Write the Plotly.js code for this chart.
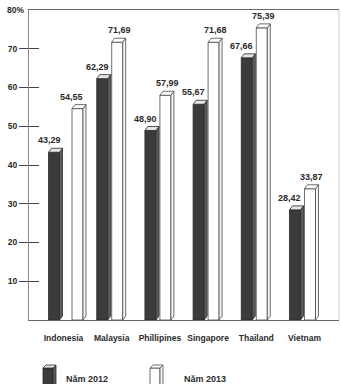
<!DOCTYPE html>
<html>
<head>
<meta charset="utf-8">
<script src="https://cdn.plot.ly/plotly-3.0.1.min.js"></script>
<style>
  html, body { margin: 0; padding: 0; background: #fff; }
  #chart { width: 341px; height: 384px; }
</style>
</head>
<body>
<div id="chart"></div>
<script>
// Share (%) by country, two years
const categories = ['Indonesia', 'Malaysia', 'Phillipines', 'Singapore', 'Thailand', 'Vietnam'];
const values2012 = [43.29, 62.29, 48.90, 55.67, 67.66, 28.42];
const values2013 = [54.55, 71.69, 57.99, 71.68, 75.39, 33.87];
const seriesNames = ['Năm 2012', 'Năm 2013'];
const yTickValues = [10, 20, 30, 40, 50, 60, 70];
const yTopLabel = '80%';

const FONT = '"Liberation Sans", Arial, Helvetica, sans-serif';
const INK = '#2b2b2b';

// plot box in pixels
const W = 341, H = 384;
const M = { l: 29, r: 2, t: 10, b: 64 };
const plotW = W - M.l - M.r, plotH = H - M.t - M.b;
const xRange = [-0.716, 5.716];
const yRange = [0, 80];
const pxPerX = plotW / (xRange[1] - xRange[0]);
const pxPerY = plotH / (yRange[1] - yRange[0]);

// bar geometry (front face + slanted side/top faces)
const FRONT_W = 11 / pxPerX;
const DEPTH_X = 3 / pxPerX;
const DEPTH_Y = 4 / pxPerY;
// per-category horizontal placement of each series' bar, in px from the category centre
const barShiftPx = [
  [-15, -15, -15, -15, -15, -15],
  [8.5, 0, 0, 0, 0, 0]
];

const styles = [
  { front: '#3b3b3b', side: '#5c5c5c', cap: '#e4e4e4', edge: '#2b2b2b', labelPx: -14.5 },
  { front: '#ffffff', side: '#f3f3f3', cap: '#ffffff', edge: '#4a4a4a', labelPx: 7.5 }
];
const xIdx = categories.map((_, i) => i);
const fmt = v => v.toFixed(2).replace('.', ',');
const seriesValues = [values2012, values2013];

const traces = seriesValues.map((vals, s) => ({
  type: 'bar',
  name: seriesNames[s],
  x: xIdx,
  y: vals,
  width: FRONT_W,
  offset: barShiftPx[s].map(p => p / pxPerX),
  marker: { color: styles[s].front, line: { color: styles[s].edge, width: 0.8 } },
  showlegend: false,
  hoverinfo: 'skip'
}));
// carrier for the inner half of the y tick marks
traces.push({ type: 'scatter', x: [], y: [], yaxis: 'y2', showlegend: false, hoverinfo: 'skip' });

// 3D side and top faces, computed from the bar values
const shapes = [];
function faces(x0, v, st) {
  const r = x0 + FRONT_W;
  shapes.push({
    type: 'path', xref: 'x', yref: 'y', layer: 'above',
    path: `M${r},0 L${r},${v} L${r + DEPTH_X},${v + DEPTH_Y} L${r + DEPTH_X},${DEPTH_Y} Z`,
    fillcolor: st.side, line: { color: st.edge, width: 0.8 }
  });
  shapes.push({
    type: 'path', xref: 'x', yref: 'y', layer: 'above',
    path: `M${x0},${v} L${r},${v} L${r + DEPTH_X},${v + DEPTH_Y} L${x0 + DEPTH_X},${v + DEPTH_Y} Z`,
    fillcolor: st.cap, line: { color: st.edge, width: 0.8 }
  });
}
seriesValues.forEach((vals, s) => {
  vals.forEach((v, i) => faces(i + barShiftPx[s][i] / pxPerX, v, styles[s]));
});

// faint right frame
shapes.push({ type: 'line', xref: 'paper', yref: 'paper', x0: 1, x1: 1, y0: 0, y1: 1,
  line: { color: '#cfcfcf', width: 1 } });

// value labels
const annotations = [];
seriesValues.forEach((vals, s) => {
  vals.forEach((v, i) => {
    annotations.push({
      x: i, y: v, xref: 'x', yref: 'y', xshift: styles[s].labelPx,
      text: fmt(v), showarrow: false,
      xanchor: 'center', yanchor: 'bottom', yshift: 5,
      font: { family: FONT, size: 9, color: INK, weight: 'bold' }
    });
  });
});
annotations.push({
  xref: 'paper', yref: 'y', x: 0, y: 80, xanchor: 'right', yanchor: 'middle', xshift: -3,
  text: yTopLabel, showarrow: false,
  font: { family: FONT, size: 8.5, color: INK, weight: 'bold' }
});

// legend drawn as small 3D blocks below the chart
const px2x = px => (px - M.l) / plotW;
const px2y = py => (M.t + plotH - py) / plotH;
function legendBlock(left, st, label, textLeft) {
  const x0 = px2x(left), fw = 10 / plotW, dx = 3 / plotW, dy = 3 / plotH;
  const yb = px2y(386), yt = px2y(368);
  shapes.push({ type: 'rect', xref: 'paper', yref: 'paper', x0, x1: x0 + fw, y0: yb, y1: yt,
    fillcolor: st.front, line: { color: st.edge, width: 0.8 } });
  shapes.push({ type: 'path', xref: 'paper', yref: 'paper',
    path: `M${x0 + fw},${yb} L${x0 + fw},${yt} L${x0 + fw + dx},${yt + dy} L${x0 + fw + dx},${yb} Z`,
    fillcolor: st.side, line: { color: st.edge, width: 0.8 } });
  shapes.push({ type: 'path', xref: 'paper', yref: 'paper',
    path: `M${x0},${yt} L${x0 + fw},${yt} L${x0 + fw + dx},${yt + dy} L${x0 + dx},${yt + dy} Z`,
    fillcolor: st.cap, line: { color: st.edge, width: 0.8 } });
  annotations.push({ xref: 'paper', yref: 'paper', x: px2x(textLeft), y: px2y(379),
    xanchor: 'left', yanchor: 'middle', text: label, showarrow: false,
    font: { family: FONT, size: 9, color: INK, weight: 'bold' } });
}
legendBlock(43, styles[0], seriesNames[0], 64);
legendBlock(150, styles[1], seriesNames[1], 182);

const layout = {
  width: W, height: H,
  margin: M,
  paper_bgcolor: '#fff', plot_bgcolor: '#fff',
  showlegend: false,
  xaxis: {
    type: 'linear', range: xRange, fixedrange: true,
    tickvals: xIdx, ticktext: categories,
    ticks: '', showgrid: false, zeroline: false,
    showline: true, linecolor: '#6a6a6a', linewidth: 1, mirror: true,
    ticklabelstandoff: 10,
    tickfont: { family: FONT, size: 8.5, color: INK, weight: 'bold' }
  },
  yaxis: {
    range: yRange, fixedrange: true,
    tickvals: yTickValues, ticktext: yTickValues.map(String),
    ticks: 'outside', ticklen: 9, tickcolor: '#444', tickwidth: 1,
    showgrid: false, zeroline: false,
    showline: true, linecolor: '#8a8a8a', linewidth: 1,
    tickfont: { family: FONT, size: 8.5, color: INK, weight: 'bold' }
  },
  yaxis2: {
    overlaying: 'y', side: 'left', range: yRange, fixedrange: true,
    tickvals: yTickValues, ticks: 'inside', ticklen: 10, tickcolor: '#444', tickwidth: 1,
    showticklabels: false, showgrid: false, zeroline: false, showline: false
  },
  shapes, annotations
};

Plotly.newPlot('chart', traces, layout, { staticPlot: true, displayModeBar: false });
</script>
</body>
</html>
